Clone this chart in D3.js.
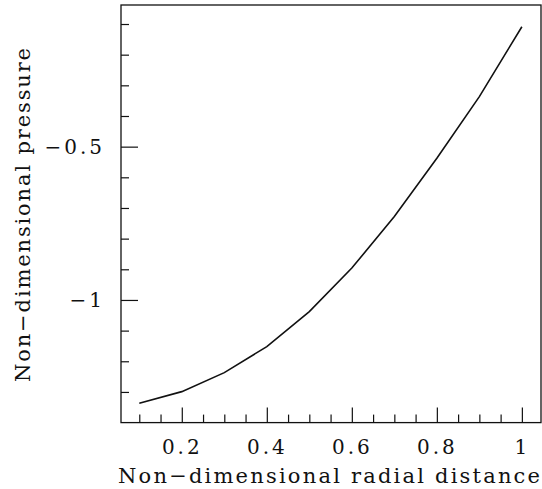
<!DOCTYPE html>
<html>
<head>
<meta charset="utf-8">
<script src="https://cdn.jsdelivr.net/npm/d3@7"></script>
<style>
  body { margin: 0; background: #fff; }
  svg { display: block; }
</style>
</head>
<body>
<div id="chart"></div>
<script>
// data
const radius = [0.1, 0.2, 0.3, 0.4, 0.5, 0.6, 0.7, 0.8, 0.9, 1.0];
const pressure = [-1.337, -1.299, -1.237, -1.152, -1.038, -0.896, -0.728, -0.538, -0.337, -0.109];
const xMajor = [0.2, 0.4, 0.6, 0.8, 1];
const xMinor = [0.1, 0.15, 0.25, 0.3, 0.35, 0.45, 0.5, 0.55, 0.65, 0.7, 0.75, 0.85, 0.9, 0.95];
const yMajor = [-0.5, -1];
const yMinor = [-0.1, -0.2, -0.3, -0.4, -0.6, -0.7, -0.8, -0.9, -1.1, -1.2, -1.3];

const width = 542;
const height = 489;
const margin = { top: 5, right: 1, bottom: 66.4, left: 121 };
const font = "'DejaVu Serif', serif";

const svg = d3.select("#chart").append("svg").attr("width", width).attr("height", height);

const xScale = d3.scaleLinear()
  .domain([0.057, 1.045])
  .range([margin.left, width - margin.right]);
const yScale = d3.scaleLinear()
  .domain([-1.40, -0.038])
  .range([height - margin.bottom, margin.top]);

const bottom = height - margin.bottom;

// frame
svg.append("rect")
  .attr("x", margin.left).attr("y", margin.top)
  .attr("width", width - margin.right - margin.left)
  .attr("height", bottom - margin.top)
  .attr("fill", "none").attr("stroke", "#111").attr("stroke-width", 1.3);

// x axis ticks (inward)
svg.append("g")
  .attr("transform", "translate(0," + bottom + ")")
  .call(d3.axisBottom(xScale).tickValues(xMajor).tickSizeInner(-15).tickSizeOuter(0).tickPadding(17)
    .tickFormat(d3.format("")))
  .call(g => g.select(".domain").remove());
svg.append("g")
  .attr("transform", "translate(0," + bottom + ")")
  .call(d3.axisBottom(xScale).tickValues(xMinor).tickSizeInner(-8).tickSizeOuter(0).tickFormat(""))
  .call(g => g.select(".domain").remove());

// y axis ticks
svg.append("g")
  .attr("transform", "translate(" + margin.left + ",0)")
  .call(d3.axisLeft(yScale).tickValues(yMajor).tickSizeInner(-17).tickSizeOuter(0).tickPadding(16)
    .tickFormat(d3.format("")))
  .call(g => g.select(".domain").remove());
svg.append("g")
  .attr("transform", "translate(" + margin.left + ",0)")
  .call(d3.axisLeft(yScale).tickValues(yMinor).tickSizeInner(-8).tickSizeOuter(0).tickFormat(""))
  .call(g => g.select(".domain").remove());

svg.selectAll(".tick line").attr("stroke", "#111").attr("stroke-width", 1.2);
svg.selectAll(".tick text")
  .attr("font-family", font).attr("font-size", "20px").attr("fill", "#111")
  .attr("letter-spacing", "3px");

// axis labels
svg.append("text")
  .attr("x", 118).attr("y", 483)
  .attr("font-family", font).attr("font-size", "21px").attr("fill", "#111")
  .attr("textLength", 422).attr("lengthAdjust", "spacing")
  .text("Non\u2212dimensional radial distance");

svg.append("text")
  .attr("transform", "translate(30,382) rotate(-90)")
  .attr("font-family", font).attr("font-size", "21px").attr("fill", "#111")
  .attr("textLength", 334).attr("lengthAdjust", "spacing")
  .text("Non\u2212dimensional pressure");

// curve
const dataset = radius.map((r, i) => [r, pressure[i]]);
svg.append("path")
  .datum(dataset)
  .attr("fill", "none")
  .attr("stroke", "#111")
  .attr("stroke-width", 1.6)
  .attr("d", d3.line()
    .x(d => xScale(d[0]))
    .y(d => yScale(d[1])));
</script>
</body>
</html>
